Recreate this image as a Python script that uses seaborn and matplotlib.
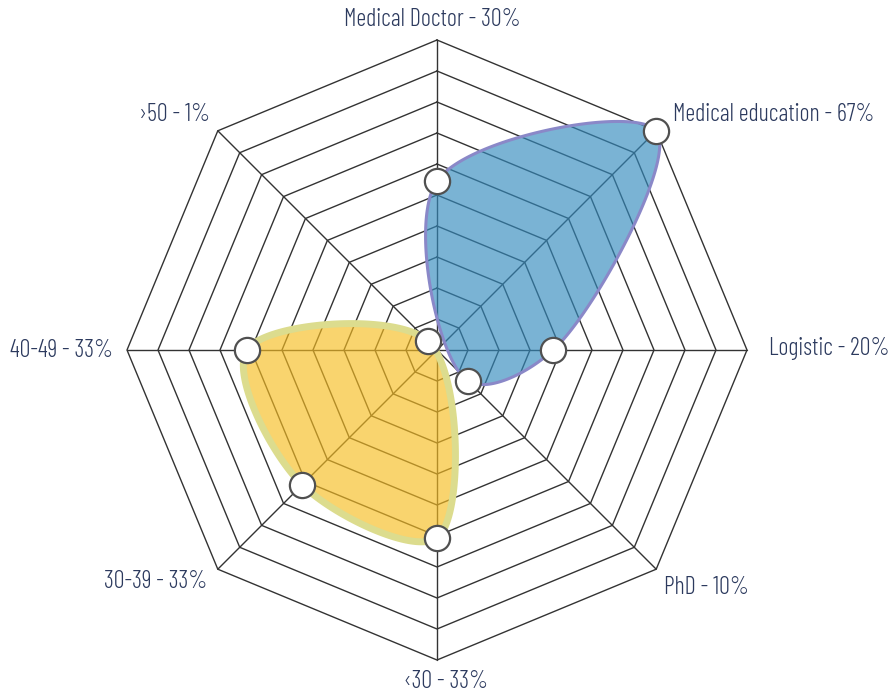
import numpy as np
import pandas as pd
import matplotlib
matplotlib.use('Agg')
import matplotlib.pyplot as plt
import seaborn as sns

# axes of the radar, clockwise from top
categories = ['Medical Doctor', 'Medical education', 'Logistic', 'PhD',
              '\u203930', '30-39', '40-49', '\u203a50']
percent_labels = ['30%', '67%', '20%', '10%', '33%', '33%', '33%', '1%']
# radial position of each point, in rings (0-10)
values = [5.45, 10.0, 3.75, 1.42, 6.06, 6.15, 6.13, 0.4]
# the two filled shapes (None = not part of the shape)
profession = [5.45, 10.0, 3.75, 1.42, None, None, None, None]
age_group = [None, None, None, None, 6.06, 6.15, 6.13, 0.4]

n_rings = 10

sns.set_theme(style='white')
plt.rcParams['font.family'] = ['Barlow Condensed', 'DejaVu Sans']

angles = np.pi / 2 - np.arange(len(categories)) * 2 * np.pi / len(categories)
df = pd.DataFrame({'cat': categories, 'val': values, 'ang': angles})
df['x'] = df.val * np.cos(df.ang)
df['y'] = df.val * np.sin(df.ang)


def closed_spline(vals, steps=60, alpha=0.5):
    # centripetal catmull-rom, closed
    keep = [i for i, v in enumerate(vals) if v is not None]
    r = np.array([vals[i] for i in keep], dtype=float)
    a = angles[keep]
    pts = np.column_stack([r * np.cos(a), r * np.sin(a)])
    n = len(pts)
    out = []
    for i in range(n):
        p0, p1, p2, p3 = pts[i - 1], pts[i], pts[(i + 1) % n], pts[(i + 2) % n]
        l01 = np.linalg.norm(p1 - p0)
        l12 = np.linalg.norm(p2 - p1)
        l23 = np.linalg.norm(p3 - p2)
        a01, a12, a23 = l01 ** alpha, l12 ** alpha, l23 ** alpha
        b01, b12, b23 = l01 ** (2 * alpha), l12 ** (2 * alpha), l23 ** (2 * alpha)
        k1 = 2 * b01 + 3 * a01 * a12 + b12
        c1 = (p1 * k1 - p0 * b12 + p2 * b01) / (3 * a01 * (a01 + a12))
        k2 = 2 * b23 + 3 * a23 * a12 + b12
        c2 = (p2 * k2 + p1 * b23 - p3 * b12) / (3 * a23 * (a23 + a12))
        t = np.linspace(0, 1, steps, endpoint=False)[:, None]
        out.append((1 - t) ** 3 * p1 + 3 * (1 - t) ** 2 * t * c1 + 3 * (1 - t) * t ** 2 * c2 + t ** 3 * p2)
    out = np.vstack(out)
    return out[:, 0], out[:, 1]


fig = plt.figure(figsize=(8.92, 6.92), dpi=100)
ax = fig.add_axes([0, 0, 1, 1])
px = 31.0  # pixels per ring
xlim = (-437 / px, (892 - 437) / px)
ylim = (-(692 - 350) / px, 350 / px)

# octagon grid
for r in range(1, n_rings + 1):
    gx = np.append(r * np.cos(angles), r * np.cos(angles[0]))
    gy = np.append(r * np.sin(angles), r * np.sin(angles[0]))
    ax.plot(gx, gy, color='#333333', lw=1.0, zorder=1)
for a in angles:
    ax.plot([0, n_rings * np.cos(a)], [0, n_rings * np.sin(a)], color='#333333', lw=1.0, zorder=1)

bx, by = closed_spline(profession)
ax.fill(bx, by, facecolor=(0.2, 0.54, 0.74, 0.65), edgecolor='#8a88c8', lw=2.2, zorder=2)

yx, yy = closed_spline(age_group)
ax.fill(yx, yy, facecolor=(0.97, 0.74, 0.13, 0.65), edgecolor='#dcdc8e', lw=5, zorder=2)

sns.scatterplot(data=df, x='x', y='y', ax=ax, s=330, color='white',
                edgecolor='#505050', linewidth=1.6, zorder=5, legend=False)
ax.set_xlim(*xlim)
ax.set_ylim(*ylim)
ax.axis('off')

# label placement: offset in pixels from the outer vertex, alignment
label_offsets = [(-5, 20), (17, 16), (22, 1), (8, -18), (9, -22), (-11, -12), (-14, 0), (-8, 16)]
label_align = ['center', 'left', 'left', 'left', 'center', 'right', 'right', 'right']
for cat, pct, a, off, ha in zip(categories, percent_labels, angles, label_offsets, label_align):
    vx, vy = n_rings * np.cos(a), n_rings * np.sin(a)
    ax.annotate(f'{cat} - {pct}', (vx, vy), xytext=(off[0] * 0.72, off[1] * 0.72),
                textcoords='offset points', ha=ha, va='center',
                fontsize=17.5, fontweight=300, color='#2c3a5e')

fig.savefig('out.png', dpi=100)
